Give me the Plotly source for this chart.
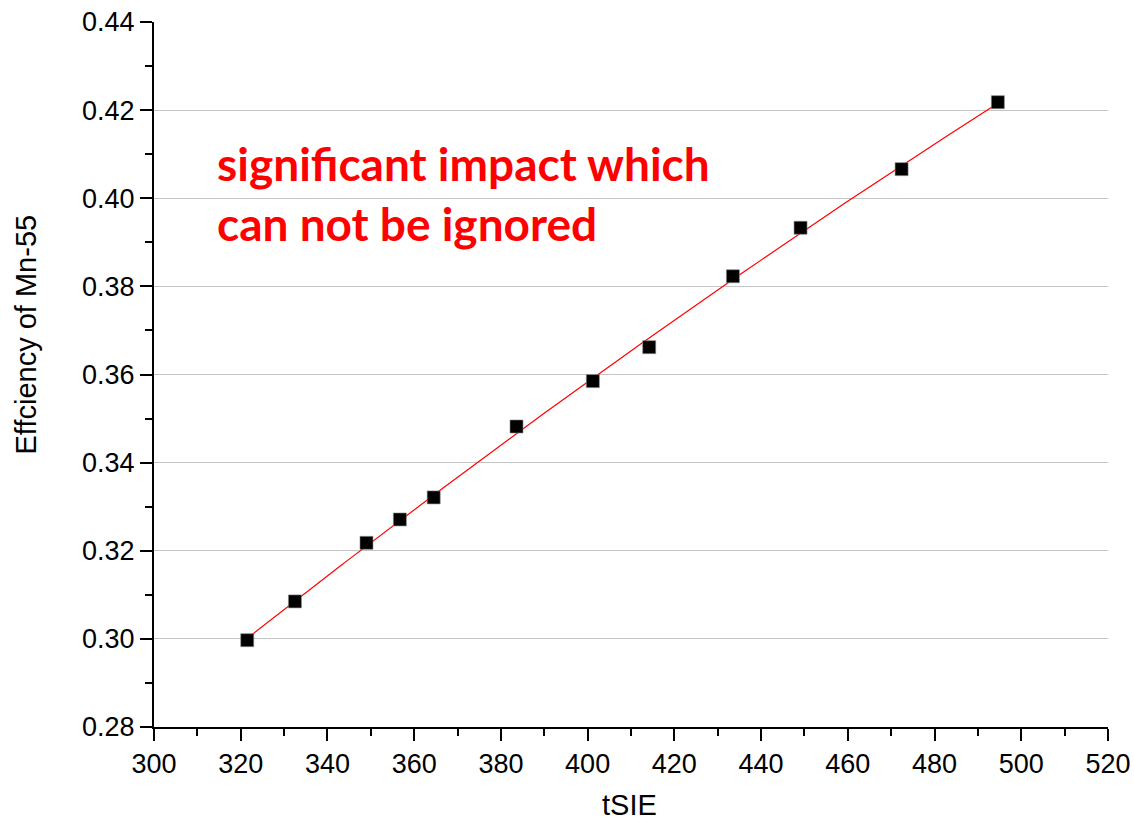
import numpy as np
import plotly.graph_objects as go

# Measured counting efficiency versus tSIE quench indicator
tsie = [321.5, 332.5, 349.0, 356.7, 364.5, 383.6, 401.2, 414.2, 433.5, 449.1, 472.4, 494.6]
efficiency = [0.2997, 0.3085, 0.3218, 0.3271, 0.3321, 0.3482, 0.3585, 0.3662,
              0.3823, 0.3933, 0.4066, 0.4218]

x_range = [300, 520]
y_range = [0.28, 0.44]

# Second-order polynomial fit through the measurements
coeffs = np.polyfit(tsie, efficiency, 2)
fit_x = np.linspace(min(tsie), max(tsie), 200)
fit_y = np.polyval(coeffs, fit_x)

axis_font = dict(family="Arial, Liberation Sans, sans-serif", size=27, color="black")
title_font = dict(family="Arial, Liberation Sans, sans-serif", size=29, color="black")

fig = go.Figure()
fig.add_trace(go.Scatter(
    x=fit_x, y=fit_y, mode="lines",
    line=dict(color="#ff0000", width=1.2),
    showlegend=False, hoverinfo="skip",
))
fig.add_trace(go.Scatter(
    x=tsie, y=efficiency, mode="markers",
    marker=dict(symbol="square", size=13, color="black",
                line=dict(color="#888888", width=0.6)),
    showlegend=False,
))

common = dict(showline=True, linecolor="black", linewidth=2, tickwidth=2,
              tickcolor="black", zeroline=False, automargin=False)

fig.update_layout(
    width=1134, height=822,
    margin=dict(l=154, r=26, t=22, b=95, pad=0),
    paper_bgcolor="white", plot_bgcolor="white",
    font=axis_font,
    xaxis=dict(range=x_range, dtick=20, tick0=300, ticks="outside", ticklen=12,
               minor=dict(dtick=10, ticks="outside", ticklen=7, tickwidth=2, tickcolor="black"),
               showgrid=False, tickfont=axis_font, **common),
    yaxis=dict(range=y_range, dtick=0.02, tick0=0.28, tickformat=".2f",
               ticks="outside", ticklen=12,
               minor=dict(dtick=0.01, ticks="outside", ticklen=7, tickwidth=2, tickcolor="black"),
               showgrid=True, gridcolor="#c4c4c4", gridwidth=1,
               tickfont=axis_font, **common),
    xaxis2=dict(range=x_range, dtick=20, tick0=300, overlaying="x", side="top",
                ticks="inside", ticklen=12, showticklabels=False, showgrid=False,
                minor=dict(dtick=10, ticks="inside", ticklen=7, tickwidth=2, tickcolor="black"),
                **common),
    yaxis2=dict(range=y_range, dtick=0.02, tick0=0.28, overlaying="y", side="right",
                ticks="inside", ticklen=12, showticklabels=False, showgrid=False,
                minor=dict(dtick=0.01, ticks="inside", ticklen=7, tickwidth=2, tickcolor="black"),
                **common),
    annotations=[
        dict(text="tSIE", xref="paper", yref="paper", x=0.498, y=-0.111,
             xanchor="center", yanchor="middle", showarrow=False, font=title_font),
        dict(text="Effciency of Mn-55", xref="paper", yref="paper", x=-0.134, y=0.557,
             xanchor="center", yanchor="middle", textangle=-90, showarrow=False,
             font=title_font),
        dict(text="<b>significant impact which<br>can not be ignored</b>",
             xref="x", yref="y", x=314.0, y=0.4146, xanchor="left", yanchor="top",
             align="left", showarrow=False,
             font=dict(family="Lato, Carlito, Calibri, sans-serif", size=46, color="#ff0000")),
    ],
)

fig.write_html("out.html")
